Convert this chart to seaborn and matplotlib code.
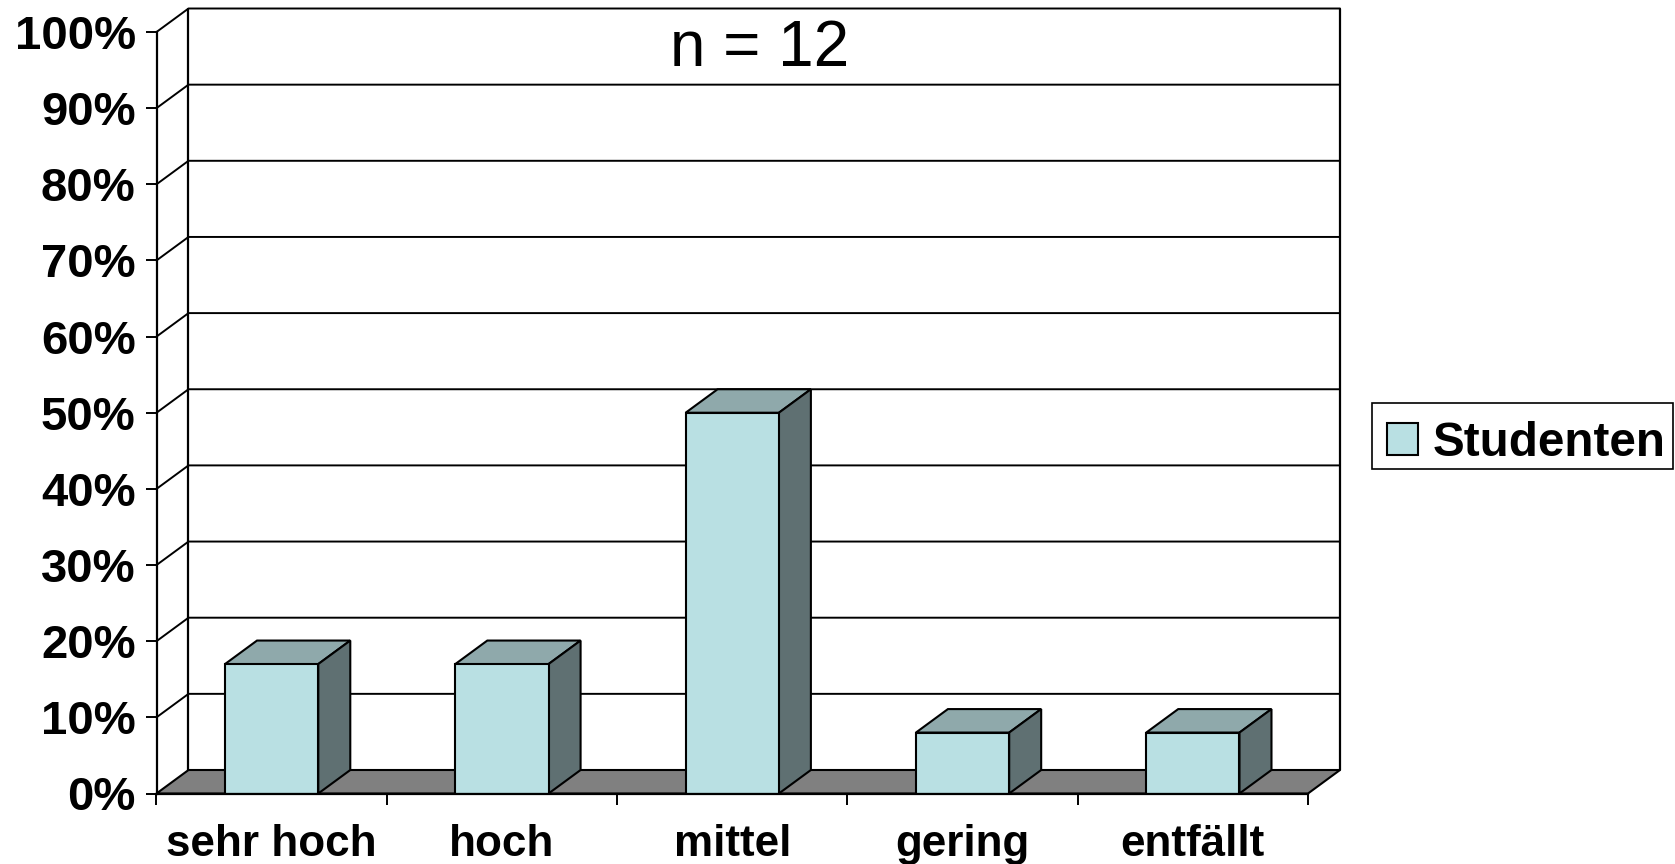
"""
3D-look column chart of the Studenten ratings, n = 12.

Outputs:
    out.png
"""

import matplotlib.pyplot as plt
import pandas as pd
import seaborn as sns

from matplotlib.patches import Patch, Polygon, Rectangle


categories = ["sehr hoch", "hoch", "mittel", "gering", "entfällt"]
values = [17, 17, 50, 8, 8]
y_ticks = [0, 10, 20, 30, 40, 50, 60, 70, 80, 90, 100]
y_tick_labels = [f"{t}%" for t in y_ticks]
series_name = "Studenten"
note = "n = 12"

FRONT = "#B9E0E3"
TOP = "#8FA9AB"
SIDE = "#5F7072"
FLOOR = "#808080"

FIG_W, FIG_H = 1675, 864
LEFT, RIGHT = 156.5, 1308
BOTTOM, TOP_Y = 793.5, 32
DEPTH_X = 32 / (RIGHT - LEFT) * len(categories)
DEPTH_Y = 23.5 / (BOTTOM - TOP_Y) * 100

sns.set_theme(style="white")
plt.rcParams["font.family"] = ["Liberation Sans", "DejaVu Sans"]

df = pd.DataFrame({"category": categories, "value": values})

fig = plt.figure(figsize=(FIG_W / 100, FIG_H / 100), dpi=100)
ax = fig.add_axes(
    [
        LEFT / FIG_W,
        1 - BOTTOM / FIG_H,
        (RIGHT - LEFT) / FIG_W,
        (BOTTOM - TOP_Y) / FIG_H,
    ]
)

sns.barplot(
    data=df,
    x="category",
    y="value",
    color=FRONT,
    saturation=1,
    width=0.405,
    edgecolor="black",
    linewidth=1.5,
    zorder=5,
    ax=ax,
)

x_min, x_max = -0.5, len(categories) - 0.5
ax.set_xlim(x_min, x_max)
ax.set_ylim(0, 100)


def add_poly(points, color, zorder, lw=1.5):
    ax.add_patch(
        Polygon(
            points,
            closed=True,
            facecolor=color,
            edgecolor="black",
            linewidth=lw,
            zorder=zorder,
            clip_on=False,
        )
    )


# floor and walls behind the columns
add_poly(
    [
        (x_min, 0),
        (x_max, 0),
        (x_max + DEPTH_X, DEPTH_Y),
        (x_min + DEPTH_X, DEPTH_Y),
    ],
    FLOOR,
    1,
)

for t in y_ticks[1:]:
    ax.plot(
        [x_min, x_min + DEPTH_X, x_max + DEPTH_X],
        [t, t + DEPTH_Y, t + DEPTH_Y],
        color="black",
        lw=1.4,
        zorder=2,
        clip_on=False,
    )

for x in (x_min + DEPTH_X, x_max + DEPTH_X):
    ax.plot(
        [x, x],
        [DEPTH_Y, 100 + DEPTH_Y],
        color="black",
        lw=1.6,
        zorder=2,
        clip_on=False,
    )

# top and side faces, taken from the bars seaborn drew
for bar in ax.patches[: len(categories)]:
    x0 = bar.get_x()
    x1 = x0 + bar.get_width()
    h = bar.get_height()
    add_poly(
        [
            (x0, h),
            (x1, h),
            (x1 + DEPTH_X, h + DEPTH_Y),
            (x0 + DEPTH_X, h + DEPTH_Y),
        ],
        TOP,
        4,
    )
    add_poly(
        [
            (x1, 0),
            (x1 + DEPTH_X, DEPTH_Y),
            (x1 + DEPTH_X, h + DEPTH_Y),
            (x1, h),
        ],
        SIDE,
        4,
    )

ax.patch.set_alpha(0)
sns.despine(ax=ax, top=True, right=True)
for side in ("left", "bottom"):
    ax.spines[side].set_linewidth(1.6)
    ax.spines[side].set_color("black")
    ax.spines[side].set_zorder(6)

ax.set_xlabel("")
ax.set_ylabel("")
ax.set_yticks(y_ticks)
ax.set_yticklabels(y_tick_labels, fontsize=34, fontweight="bold", color="black")
ax.tick_params(
    axis="y", left=True, length=8, width=1.4, color="black", pad=7
)

# boundaries get the tick marks, the names sit between them
ax.set_xticks([x_min + i for i in range(len(categories) + 1)])
ax.set_xticklabels([])
ax.tick_params(axis="x", bottom=True, length=8, width=1.4, color="black")

for i, name in enumerate(categories):
    ax.annotate(
        name,
        xy=(i, 0),
        xycoords="data",
        xytext=(0, -51),
        textcoords="offset pixels",
        ha="center",
        va="center",
        fontsize=31.7,
        fontweight="bold",
        color="black",
        annotation_clip=False,
    )

fig.text(
    760 / FIG_W,
    1 - 49 / FIG_H,
    note,
    fontsize=46,
    color="black",
    ha="center",
    va="center",
)

# legend box drawn on its own so the entry can sit low in it, as in the original
fig.add_artist(
    Rectangle(
        (1371.5 / FIG_W, 1 - 469 / FIG_H),
        301 / FIG_W,
        66.5 / FIG_H,
        transform=fig.transFigure,
        facecolor="white",
        edgecolor="black",
        linewidth=1.2,
    )
)
legend = fig.legend(
    handles=[Patch(facecolor=FRONT, edgecolor="black", linewidth=1.5, label=series_name)],
    loc="center left",
    bbox_to_anchor=(1368.5 / FIG_W, 1 - 443.5 / FIG_H),
    borderaxespad=0,
    frameon=False,
    labelcolor="black",
    prop={"family": "Liberation Sans", "weight": "bold", "size": 34.3},
    handlelength=0.65,
    handleheight=0.65,
    handletextpad=0.32,
    borderpad=0.38,
)

fig.savefig("out.png", dpi=100)
plt.close(fig)
